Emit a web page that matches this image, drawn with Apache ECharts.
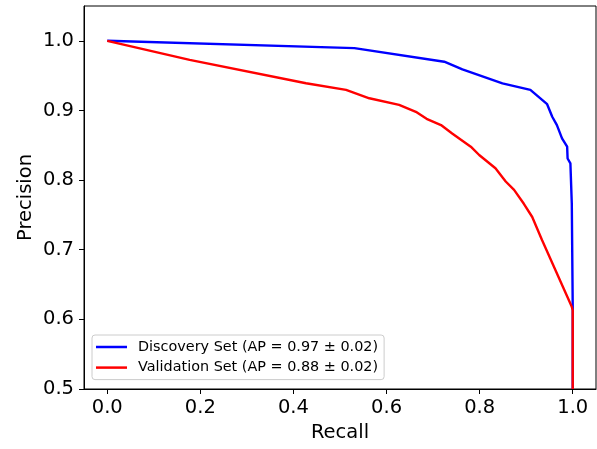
<!DOCTYPE html>
<html>
<head>
<meta charset="utf-8">
<script src="https://cdn.jsdelivr.net/npm/echarts@6/dist/echarts.min.js"></script>
<style>
html,body{margin:0;padding:0;background:#fff;}
#chart{width:597px;height:449px;}
</style>
</head>
<body>
<div id="chart"></div>
<script>
// Discovery Set PR curve
var discoveryRecall = [0.0, 0.531, 0.724, 0.763, 0.849, 0.909, 0.945, 0.956, 0.966, 0.977, 0.988, 0.989, 0.995, 0.998, 1.0, 1.0];
var discoveryPrecision = [1.0, 0.9895, 0.970, 0.959, 0.939, 0.9295, 0.909, 0.891, 0.879, 0.860, 0.848, 0.831, 0.824, 0.766, 0.618, 0.5];
// Validation Set PR curve
var validationRecall = [0.0, 0.177, 0.427, 0.513, 0.563, 0.627, 0.663, 0.686, 0.717, 0.741, 0.781, 0.799, 0.834, 0.856, 0.874, 0.895, 0.913, 0.934, 0.998, 1.0, 1.0];
var validationPrecision = [1.0, 0.9727, 0.939, 0.9295, 0.9175, 0.908, 0.898, 0.888, 0.879, 0.867, 0.848, 0.836, 0.817, 0.798, 0.786, 0.766, 0.747, 0.714, 0.618, 0.613, 0.5];
var seriesNames = ['Discovery Set (AP = 0.97 \u00b1 0.02)', 'Validation Set (AP = 0.88 \u00b1 0.02)'];
var xTicks = [0.0, 0.2, 0.4, 0.6, 0.8, 1.0];
var yTicks = [0.5, 0.6, 0.7, 0.8, 0.9, 1.0];

function pairs(xs, ys){ return xs.map(function(x,i){ return [x, ys[i]]; }); }

var font = 'DejaVu Sans';
var chart = echarts.init(document.getElementById('chart'), null, {renderer:'canvas'});
chart.setOption({
  animation:false,
  backgroundColor:'#fff',
  grid:{left:84, right:1, top:6, bottom:60, show:true, borderColor:'#000', borderWidth:1, backgroundColor:'transparent'},
  xAxis:{
    type:'value', min:-0.05, max:1.05,
    name:'Recall', nameLocation:'middle', nameGap:34, nameMoveOverlap:false,
    nameTextStyle:{fontFamily:font, fontSize:19.5, color:'#000'},
    axisLine:{show:true, onZero:false, lineStyle:{color:'#000', width:1}},
    axisTick:{show:true, length:5, customValues:xTicks, lineStyle:{color:'#000'}},
    axisLabel:{customValues:xTicks, fontFamily:font, fontSize:19.5, color:'#000', margin:9,
      formatter:function(v){return v.toFixed(1);}},
    splitLine:{show:false}
  },
  yAxis:{
    type:'value', min:0.5, max:1.05,
    name:'Precision', nameLocation:'middle', nameGap:48, nameMoveOverlap:false,
    nameTextStyle:{fontFamily:font, fontSize:19.5, color:'#000'},
    axisLine:{show:true, onZero:false, lineStyle:{color:'#000', width:1}},
    axisTick:{show:true, length:5, customValues:yTicks, lineStyle:{color:'#000'}},
    axisLabel:{customValues:yTicks, fontFamily:font, fontSize:19.5, color:'#000', margin:10,
      formatter:function(v){return v.toFixed(1);}},
    splitLine:{show:false}
  },
  legend:{
    left:92, top:335, orient:'vertical',
    icon:'rect', itemWidth:31, itemHeight:2.5, itemGap:0.6,
    padding:[2,6,2,4],
    backgroundColor:'rgba(255,255,255,0.8)', borderColor:'#cccccc', borderWidth:1, borderRadius:3,
    textStyle:{fontFamily:font, fontSize:14.4, lineHeight:20, color:'#000', padding:[0,0,0,6]},
    data:seriesNames
  },
  series:[
    {name:seriesNames[0], type:'line', data:pairs(discoveryRecall, discoveryPrecision),
     showSymbol:false, symbol:'none', color:'#0000ff', lineStyle:{color:'#0000ff', width:2.4}, clip:true},
    {name:seriesNames[1], type:'line', data:pairs(validationRecall, validationPrecision),
     showSymbol:false, symbol:'none', color:'#ff0000', lineStyle:{color:'#ff0000', width:2.4}, clip:true}
  ]
});
</script>
</body>
</html>
